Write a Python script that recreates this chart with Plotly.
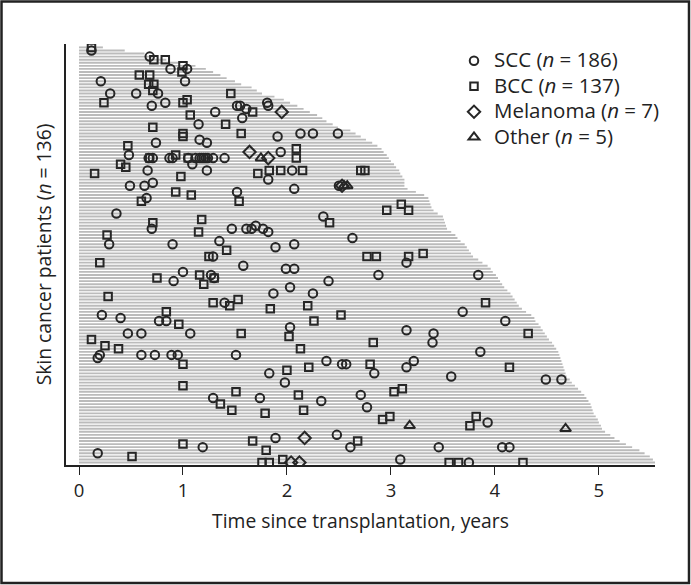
import plotly.graph_objects as go

# Follow-up length (years) per patient, listed from top row to bottom row
followup_years = [
    0.23, 0.44, 0.63, 0.73, 0.84, 0.97, 1.12, 1.22, 1.29, 1.36,
    1.42, 1.50, 1.56, 1.66, 1.71, 1.76, 1.88, 1.97, 2.03, 2.10,
    2.16, 2.22, 2.29, 2.34, 2.38, 2.44, 2.49, 2.61, 2.66, 2.71,
    2.76, 2.82, 2.87, 2.91, 2.93, 2.96, 2.98, 3.00, 3.03, 3.05,
    3.08, 3.09, 3.11, 3.13, 3.13, 3.13, 3.16, 3.24, 3.32, 3.36,
    3.37, 3.38, 3.39, 3.41, 3.45, 3.50, 3.51, 3.52, 3.53, 3.54,
    3.58, 3.62, 3.64, 3.67, 3.71, 3.73, 3.75, 3.77, 3.79, 3.84,
    3.88, 3.93, 3.96, 3.98, 4.01, 4.03, 4.05, 4.07, 4.09, 4.12,
    4.15, 4.17, 4.19, 4.21, 4.23, 4.26, 4.30, 4.35, 4.38, 4.39,
    4.42, 4.44, 4.46, 4.48, 4.50, 4.52, 4.55, 4.57, 4.59, 4.61,
    4.62, 4.63, 4.64, 4.65, 4.66, 4.67, 4.68, 4.69, 4.72, 4.74,
    4.77, 4.80, 4.83, 4.86, 4.88, 4.90, 4.92, 4.93, 4.94, 4.95,
    4.97, 4.99, 5.00, 5.02, 5.03, 5.06, 5.11, 5.15, 5.20, 5.26,
    5.32, 5.39, 5.44, 5.49, 5.52, 5.54,
]

# SCC events: time (years) and patient row (0 = top row)
scc_time = [
    0.12, 0.68, 0.88, 1.04, 0.21, 1.02, 0.30, 0.55, 0.76, 0.70,
    0.83, 1.31, 1.52, 1.55, 1.61, 1.81, 1.82, 1.57, 1.15, 1.16,
    1.23, 1.91, 2.13, 2.25, 2.49, 0.48, 0.74, 1.94,
    0.67, 0.71, 0.87, 0.90, 1.05, 1.12, 1.16, 1.18, 1.20, 1.22, 1.24, 1.29, 1.40, 1.09,
    0.66, 1.23, 1.82, 2.05, 0.49, 0.63, 0.71, 1.52, 2.07, 2.50,
    0.65, 0.36, 0.70, 1.47, 1.61, 1.66, 1.70, 1.77, 1.82, 0.29,
    0.90, 1.35, 1.89, 2.07, 1.29, 1.58, 1.00, 0.91, 1.27, 1.30,
    1.99, 2.07, 1.87, 2.03, 1.40, 0.22, 0.40, 0.77, 0.84, 2.03,
    0.47, 0.60, 1.07, 0.18, 0.20, 0.60, 0.73, 0.89, 0.95, 1.51,
    1.83, 1.98, 1.29, 1.74, 1.89, 1.19, 0.18, 2.35, 2.63, 3.15,
    2.88, 3.84, 2.40, 2.25, 3.69, 4.10, 3.15, 3.41, 3.40, 3.86,
    2.38, 2.53, 2.57, 3.22, 3.15, 2.84, 3.58, 2.33, 2.71, 2.77,
    3.93, 2.48, 2.61, 3.46, 4.07, 4.14, 3.09, 3.75, 4.49, 4.64,
]
scc_patient = [
    1, 3, 7, 7, 11, 11, 15, 15, 15, 19,
    18, 21, 19, 19, 20, 18, 19, 23, 25, 30,
    31, 29, 28, 28, 28, 35, 31, 34,
    36, 36, 36, 36, 36, 36, 36, 36, 36, 36, 36, 36, 36, 38,
    40, 40, 43, 40, 45, 45, 44, 47, 46, 45,
    49, 54, 59, 59, 59, 59, 58, 59, 60, 64,
    64, 63, 65, 64, 68, 71, 73, 76, 74, 75,
    72, 72, 80, 78, 83, 87, 88, 89, 89, 91,
    93, 93, 93, 101, 100, 100, 100, 100, 100, 100,
    106, 109, 114, 114, 127, 130, 132, 55, 62, 70,
    74, 74, 76, 80, 86, 89, 92, 93, 96, 99,
    102, 103, 103, 102, 104, 106, 107, 115, 113, 117,
    122, 126, 130, 130, 130, 130, 134, 135, 108, 108,
]

# BCC events
bcc_time = [
    0.12, 0.72, 0.83, 1.00, 0.99, 0.58, 0.68, 0.67, 0.72, 0.71,
    0.24, 1.00, 1.04, 1.46, 1.67, 1.07, 1.41, 0.71, 1.56, 1.00,
    1.00, 0.47, 0.93, 0.68, 1.05, 2.09, 0.40, 0.45, 0.15, 0.98,
    1.72, 1.83, 1.94, 2.15, 2.09, 2.71, 2.75, 0.93, 1.08, 1.54,
    0.60, 0.71, 1.18, 1.15, 0.27, 1.42, 1.25, 0.20, 0.75, 1.16,
    1.30, 1.20, 0.28, 1.29, 1.45, 1.53, 1.84, 2.20, 0.84, 0.96,
    2.02, 0.12, 1.56, 0.25, 0.38, 1.00, 2.13, 2.00, 2.21, 1.00,
    1.51, 1.36, 2.11, 1.47, 1.79, 2.16, 1.67, 1.00, 1.80, 0.51,
    1.76, 1.83, 1.96, 2.96, 3.10, 3.17, 2.41, 2.77, 2.86, 3.17,
    3.31, 2.52, 3.91, 2.26, 4.32, 2.83, 2.80, 4.14, 3.03, 3.11,
    2.92, 2.99, 3.82, 3.76, 2.68, 3.56, 3.65, 4.27,
]
bcc_patient = [
    0, 4, 4, 6, 8, 9, 9, 12, 12, 14,
    18, 18, 17, 15, 21, 22, 25, 26, 28, 28,
    29, 32, 35, 36, 36, 36, 38, 39, 41, 42,
    41, 40, 40, 40, 33, 40, 40, 47, 48, 50,
    50, 57, 56, 60, 61, 66, 68, 70, 75, 74,
    75, 77, 81, 83, 84, 82, 85, 84, 86, 90,
    94, 95, 93, 97, 98, 103, 98, 105, 104, 110,
    112, 116, 113, 118, 119, 118, 128, 129, 131, 133,
    135, 135, 134, 53, 51, 53, 57, 68, 68, 68,
    67, 87, 83, 89, 93, 96, 103, 104, 112, 111,
    121, 120, 120, 123, 128, 135, 135, 135,
]

# Melanoma events
mel_time = [1.95, 1.64, 1.82, 2.53, 2.17, 2.04, 2.12]
mel_patient = [21, 34, 36, 45, 127, 135, 135]

# Other events
oth_time = [1.75, 2.55, 2.58, 3.18, 4.68]
oth_patient = [36, 45, 45, 123, 124]

x_ticks = [0, 1, 2, 3, 4, 5]

FONT = "Open Sans"
INK = "#222222"
MARK = "#262626"

line_x, line_y = [], []
for i, L in enumerate(followup_years):
    line_x += [0, L, None]
    line_y += [i, i, None]

fig = go.Figure()
fig.add_trace(go.Scatter(
    x=line_x, y=line_y, mode="lines",
    line=dict(color="#bbbbbb", width=1.9),
    showlegend=False, hoverinfo="skip",
))

def big(s):
    return "<span style='font-size:20.5px'>" + s + "</span>"

series = [
    (big("SCC (<i>n</i> = 186)"), scc_time, scc_patient, "circle-open", 8.5),
    (big("BCC (<i>n</i> = 137)"), bcc_time, bcc_patient, "square-open", 7.5),
    (big("Melanoma (<i>n</i> = 7)"), mel_time, mel_patient, "diamond-open", 9.5),
    (big("Other (<i>n</i> = 5)"), oth_time, oth_patient, "triangle-up-open", 9.5),
]
for name, t, p, sym, size in series:
    fig.add_trace(go.Scatter(
        x=t, y=p, mode="markers", name=name,
        marker=dict(symbol=sym, size=size, color=MARK,
                    line=dict(width=2, color=MARK)),
    ))

W, H = 691, 585
ML, MR, MT, MB = 66, 36, 44, 120
PW = W - ML - MR
PH = H - MT - MB

def px_x(px):
    return (px - ML) / PW

def px_y(py):
    return (H - MB - py) / PH

fig.update_layout(
    width=W, height=H,
    margin=dict(l=ML, r=MR, t=MT, b=MB, pad=0),
    paper_bgcolor="white", plot_bgcolor="white",
    font=dict(family=FONT, size=19, color=INK),
    legend=dict(
        x=px_x(454), y=px_y(43), xanchor="left", yanchor="top",
        bgcolor="rgba(0,0,0,0)", font=dict(family=FONT, size=17.3, color=INK),
        itemwidth=30, tracegroupgap=0,
    ),
    xaxis=dict(
        range=[-0.125, 5.54], tickvals=x_ticks, ticktext=[str(v) for v in x_ticks],
        ticks="outside", ticklen=8, tickwidth=1.3, tickcolor=INK,
        showline=True, linecolor=INK, linewidth=1.5,
        showgrid=False, zeroline=False,
        tickfont=dict(family=FONT, size=18.5, color=INK),
        title=dict(text="Time since transplantation, years",
                   font=dict(family=FONT, size=19.3, color=INK), standoff=14),
    ),
    yaxis=dict(
        range=[135.8, -1.1], showticklabels=False, ticks="",
        showline=True, linecolor=INK, linewidth=1.5,
        showgrid=False, zeroline=False,
        title=dict(text="Skin cancer patients (<i>n</i> = 136)",
                   font=dict(family=FONT, size=19.3, color=INK), standoff=7),
    ),
    shapes=[dict(
        type="rect", xref="paper", yref="paper",
        x0=px_x(1.5), x1=px_x(689), y0=px_y(583), y1=px_y(1.5),
        line=dict(color="#222222", width=2.5), fillcolor="rgba(0,0,0,0)",
    )],
)

fig.write_html("out.html", config={"displayModeBar": False},
               post_script="document.body.style.margin='0px';")
